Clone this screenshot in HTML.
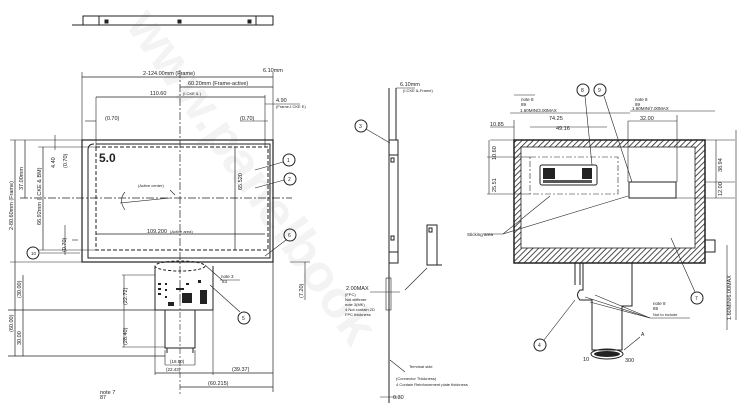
<!DOCTYPE html>
<html><head><meta charset="utf-8"><style>
html,body{margin:0;padding:0;background:#fff;width:750px;height:413px;overflow:hidden;}
svg{display:block;font-family:"Liberation Sans",sans-serif;overflow:hidden;}
</style></head><body>
<svg width="750" height="413" viewBox="0 0 750 413" xmlns="http://www.w3.org/2000/svg">
<defs>
<pattern id="h" width="4" height="4" patternUnits="userSpaceOnUse" patternTransform="rotate(45)">
<rect width="4" height="4" fill="#fff"/><line x1="0" y1="0" x2="0" y2="4" stroke="#222" stroke-width="1.6"/></pattern>
</defs>
<text x="0" y="0" transform="translate(125,25) rotate(55)" font-size="52" fill="#f3f3f3" font-weight="bold">www.panelbook</text>

<g stroke="#222" fill="none" stroke-width="1">
<rect x="83" y="16" width="190" height="9"/>
<line x1="99" y1="16" x2="99" y2="25"/><line x1="256" y1="16" x2="256" y2="25"/>
<line x1="72" y1="25" x2="83" y2="25"/>
<rect x="105" y="20" width="3" height="3" fill="#222"/><rect x="178" y="20" width="3" height="3" fill="#222"/><rect x="248" y="20" width="3" height="3" fill="#222"/>

<rect x="82" y="140" width="191" height="122" stroke-width="1.2"/>
<path d="M96 144 H270 V258 H88 V150 Q88 144 94 144" />
<rect x="96" y="147" width="172" height="103" stroke-dasharray="4,2"/>
<line x1="180" y1="70" x2="180" y2="300" stroke-dasharray="8,2,2,2" stroke-width="0.7"/>
<line x1="20" y1="198" x2="292" y2="198" stroke-dasharray="8,2,2,2" stroke-width="0.7"/>
<line x1="82" y1="72" x2="82" y2="140" stroke-width="0.6"/><line x1="273" y1="72" x2="273" y2="140" stroke-width="0.6"/>
<line x1="82" y1="77" x2="273" y2="77" stroke-width="0.7"/>
<line x1="180" y1="87" x2="273" y2="87" stroke-width="0.7"/>
<line x1="96" y1="97" x2="265" y2="97" stroke-width="0.7"/>
<line x1="96" y1="97" x2="96" y2="147" stroke-width="0.6"/><line x1="265" y1="95" x2="265" y2="147" stroke-width="0.6"/>
<line x1="265" y1="104" x2="300" y2="104" stroke-width="0.6"/>
<line x1="85" y1="121" x2="96" y2="121" stroke-width="0.6"/><line x1="240" y1="121" x2="268" y2="121" stroke-width="0.6"/>
<line x1="96" y1="234" x2="265" y2="234" stroke-width="0.7"/>
<line x1="235" y1="147" x2="235" y2="250" stroke-width="0.7"/>
<line x1="10" y1="140" x2="82" y2="140" stroke-width="0.6"/>
<line x1="10" y1="262" x2="82" y2="262" stroke-width="0.6"/>
<line x1="15" y1="140" x2="15" y2="262" stroke-width="0.7"/>
<line x1="25" y1="140" x2="25" y2="198" stroke-width="0.7"/>
<line x1="38" y1="147" x2="96" y2="147" stroke-width="0.6"/>
<line x1="38" y1="250" x2="96" y2="250" stroke-width="0.6"/>
<line x1="43" y1="147" x2="43" y2="250" stroke-width="0.7"/>
<line x1="55" y1="135" x2="55" y2="150" stroke-width="0.6"/>
<line x1="65" y1="225" x2="65" y2="255" stroke-width="0.6"/>
<line x1="72" y1="240" x2="78" y2="240" stroke-width="0.6"/>
<line x1="40" y1="253" x2="80" y2="253" stroke-width="0.6"/>
<path d="M170 198 L120 203 M125 192 Q118 200 125 210" stroke-width="0.6"/>
<path d="M170 190 L175 195" stroke-width="0.6"/>
<circle cx="289" cy="160" r="6"/><line x1="283" y1="162" x2="255" y2="170" stroke-width="0.6"/>
<circle cx="290" cy="179" r="6"/><line x1="284" y1="180" x2="255" y2="188" stroke-width="0.6"/>
<circle cx="290" cy="235" r="6"/><line x1="286" y1="240" x2="265" y2="256" stroke-width="0.6"/>
<circle cx="33" cy="253" r="6"/>

<ellipse cx="180" cy="266" rx="25" ry="5" stroke-dasharray="3,2"/>
<path d="M155 266 V310 H213 V266"/>
<path d="M165 310 V348 H195 V310"/>
<path d="M167 348 V353 M193 348 V353"/>
<line x1="155" y1="310" x2="155" y2="375" stroke-width="0.6"/>
<line x1="213" y1="310" x2="213" y2="375" stroke-width="0.6"/>
<line x1="165" y1="350" x2="165" y2="365" stroke-width="0.6"/><line x1="195" y1="350" x2="195" y2="365" stroke-width="0.6"/>
<line x1="8" y1="310" x2="213" y2="310" stroke-width="0.8"/>
<line x1="8" y1="356" x2="165" y2="356" stroke-width="0.8"/>
<line x1="15" y1="262" x2="15" y2="356" stroke-width="0.7"/>
<line x1="23" y1="275" x2="23" y2="356" stroke-width="0.7"/>
<line x1="122" y1="275" x2="155" y2="275" stroke-width="0.6"/>
<line x1="122" y1="347" x2="165" y2="347" stroke-width="0.6"/>
<line x1="124" y1="275" x2="124" y2="347" stroke-width="0.6"/>
<line x1="273" y1="262" x2="273" y2="392" stroke-width="0.7"/>
<line x1="213" y1="373" x2="273" y2="373" stroke-width="0.7"/>
<line x1="155" y1="373" x2="213" y2="373" stroke-width="0.7"/>
<line x1="165" y1="365" x2="195" y2="365" stroke-width="0.6"/>
<line x1="180" y1="387" x2="273" y2="387" stroke-width="0.7"/>
<line x1="180" y1="300" x2="180" y2="395" stroke-width="0.6" stroke-dasharray="6,2,2,2"/>
<line x1="205" y1="265" x2="222" y2="280" stroke-width="0.6"/><line x1="220" y1="280" x2="240" y2="280" stroke-width="0.6"/>
<line x1="210" y1="285" x2="240" y2="312" stroke-width="0.6"/>
<circle cx="244" cy="318" r="6"/>
<line x1="305" y1="262" x2="305" y2="300" stroke-width="0.6"/>
<line x1="290" y1="262" x2="310" y2="262" stroke-width="0.6"/>
</g>
<g fill="#222">
<rect x="158" y="283" width="3" height="2"/><rect x="158" y="288" width="3" height="2"/><rect x="158" y="293" width="3" height="2"/>
<rect x="165" y="283" width="2" height="2"/><rect x="165" y="289" width="2" height="2"/><rect x="165" y="296" width="2" height="2"/>
<rect x="176" y="288" width="8" height="2"/><rect x="186" y="283" width="3" height="2"/><rect x="198" y="280" width="3" height="3"/>
<rect x="182" y="293" width="10" height="10"/><rect x="200" y="290" width="7" height="14"/><rect x="168" y="302" width="6" height="4"/>
</g>

<g stroke="#222" fill="none" stroke-width="1">
<line x1="389" y1="88" x2="389" y2="403"/>
<line x1="396" y1="88" x2="396" y2="140"/>
<rect x="389" y="140" width="9" height="123"/>
<line x1="389" y1="155" x2="398" y2="155"/>
<line x1="389" y1="252" x2="398" y2="252"/>
<rect x="391" y="158" width="3" height="4"/><rect x="391" y="236" width="3" height="4"/>
<rect x="427" y="225" width="10" height="40"/><line x1="437" y1="265" x2="442" y2="265"/>
<rect x="429" y="228" width="3" height="4"/>
<line x1="427" y1="268" x2="405" y2="290" stroke-width="0.6"/>
<rect x="386" y="278" width="5" height="32" stroke-width="0.6"/>
<line x1="396" y1="88" x2="415" y2="88" stroke-width="0.6"/>
<circle cx="361" cy="126" r="6"/><line x1="366" y1="129" x2="390" y2="143" stroke-width="0.6"/>
<line x1="370" y1="292" x2="400" y2="292" stroke-width="0.6"/>
<line x1="390" y1="360" x2="405" y2="372" stroke-width="0.6"/>
<line x1="380" y1="397" x2="400" y2="397" stroke-width="0.6"/>
</g>

<rect x="514" y="140" width="191" height="123" fill="url(#h)" stroke="#222" stroke-width="1.5"/>
<rect x="521" y="147" width="174" height="101" fill="#fff" stroke="#222" stroke-width="0.8"/>
<g stroke="#222" fill="none" stroke-width="1">
<rect x="530" y="157" width="88" height="37" stroke-dasharray="6,2,2,2" stroke-width="0.6"/>
<rect x="540" y="165" width="57" height="20" rx="2"/>
<rect x="629" y="182" width="47" height="16"/>
<rect x="705" y="240" width="10" height="12"/>
<path d="M575 263 V285 M580 263 V285 M583 263 V290 H580 Q575 295 580 300 H592 V350 H622 V306 H632 V263"/>
<ellipse cx="607" cy="354" rx="16" ry="5"/>
<line x1="514" y1="95" x2="535" y2="95" stroke-width="0.6"/><line x1="510" y1="113" x2="630" y2="113" stroke-width="0.6"/>
<line x1="490" y1="127" x2="514" y2="127" stroke-width="0.6"/><line x1="530" y1="127" x2="607" y2="127" stroke-width="0.6"/>
<line x1="628" y1="121" x2="677" y2="121" stroke-width="0.6"/>
<line x1="628" y1="121" x2="628" y2="182" stroke-width="0.6"/><line x1="677" y1="115" x2="677" y2="182" stroke-width="0.6"/>
<line x1="630" y1="111" x2="715" y2="111" stroke-width="0.6"/>
<line x1="514" y1="120" x2="514" y2="140" stroke-width="0.6"/>
<line x1="490" y1="140" x2="514" y2="140" stroke-width="0.6"/><line x1="487" y1="157" x2="530" y2="157" stroke-width="0.6"/><line x1="487" y1="194" x2="530" y2="194" stroke-width="0.6"/>
<line x1="489" y1="140" x2="489" y2="194" stroke-width="0.6"/>
<line x1="705" y1="140" x2="735" y2="140" stroke-width="0.6"/><line x1="705" y1="182" x2="735" y2="182" stroke-width="0.6"/><line x1="676" y1="198" x2="735" y2="198" stroke-width="0.6"/>
<line x1="716" y1="140" x2="716" y2="198" stroke-width="0.6"/>
<line x1="736" y1="130" x2="736" y2="320" stroke-width="0.6"/>
<line x1="727" y1="245" x2="727" y2="330" stroke-width="0.6"/>
<circle cx="583" cy="90" r="6"/><line x1="585" y1="96" x2="592" y2="165" stroke-width="0.6"/>
<circle cx="600" cy="90" r="6"/><line x1="604" y1="96" x2="632" y2="182" stroke-width="0.6"/>
<line x1="503" y1="234" x2="550" y2="196" stroke-width="0.6"/><line x1="503" y1="234" x2="628" y2="196" stroke-width="0.6"/>
<line x1="483" y1="234" x2="503" y2="234" stroke-width="0.6"/>
<circle cx="697" cy="298" r="6"/><line x1="695" y1="292" x2="671" y2="238" stroke-width="0.6"/>
<circle cx="540" cy="345" r="6"/><line x1="544" y1="340" x2="575" y2="300" stroke-width="0.6"/>
<line x1="585" y1="297" x2="650" y2="318" stroke-width="0.6"/><line x1="590" y1="302" x2="650" y2="318" stroke-width="0.6"/><line x1="595" y1="295" x2="650" y2="318" stroke-width="0.6"/>
<line x1="650" y1="318" x2="690" y2="318" stroke-width="0.6"/>
<line x1="624" y1="350" x2="640" y2="337" stroke-width="0.6"/>
</g>
<rect x="543" y="168" width="12" height="11" fill="#222"/><rect x="582" y="168" width="10" height="11" fill="#222"/>
<rect x="543" y="180" width="49" height="3" fill="#555"/>
<ellipse cx="607" cy="354" rx="13" ry="3" fill="#222"/>

<g font-size="5.5" fill="#222">
<text x="143" y="75">2-124.00mm (Frame)</text>
<text x="188" y="85">60.20mm (Frame-active)</text>
<text x="150" y="95">110.60</text><text x="183" y="95" font-size="4">(I.CKE &amp; )</text>
<text x="276" y="102">4.90</text><text x="276" y="108" font-size="4">(Frame-I.CKE E)</text>
<text x="105" y="120">(0.70)</text><text x="240" y="120">(0.70)</text>
<text x="138" y="187" font-size="4">(Active center)</text>
<text x="147" y="233">109.200</text><text x="170" y="233" font-size="4">(Active area)</text>
<text x="100" y="394">note 7</text><text x="100" y="399">87</text>
<text x="232" y="371">(39.37)</text><text x="208" y="385">(60.215)</text>
<text x="166" y="371" font-size="4.5">(22.43)</text><text x="170" y="363" font-size="4.5">(18.50)</text>
<text x="221" y="278" font-size="4.5">note 3</text><text x="222" y="283" font-size="4.5">83</text>
<text x="263" y="72">6.10mm</text><text x="400" y="86">6.10mm</text>
<text x="403" y="92" font-size="4">(I.CKE &amp;-Frame)</text>
<text x="346" y="290">2.00MAX</text>
<text x="345" y="296" font-size="4">(FPC)</text><text x="345" y="301" font-size="4">Not stiffener</text><text x="345" y="306" font-size="4">note 3(MK)</text>
<text x="345" y="311" font-size="4">4 Not contain 2D</text><text x="345" y="316" font-size="4">FPC thickness</text>
<text x="409" y="368" font-size="4">Terminal side</text>
<text x="396" y="380" font-size="4">(Connector Thickness)</text>
<text x="396" y="386" font-size="4">4 Contain Reinforcement plate thickness</text>
<text x="393" y="399">0.30</text>
<text x="521" y="101" font-size="4.5">note 8</text><text x="521" y="106" font-size="4.5">89</text>
<text x="520" y="112" font-size="4.5">1.60MIN/3.00MAX</text>
<text x="549" y="120">74.25</text><text x="490" y="126">10.85</text><text x="556" y="130">49.16</text>
<text x="640" y="120">32.00</text>
<text x="635" y="101" font-size="4.5">note 8</text><text x="635" y="106" font-size="4.5">89</text>
<text x="632" y="110" font-size="4.5">1.60MIN/7.00MAX</text>
<text x="467" y="236" font-size="4.5">Sticking area</text>
<text x="653" y="305" font-size="4.5">note 8</text><text x="653" y="310" font-size="4.5">89</text>
<text x="653" y="316" font-size="4">Not to include</text>
<text x="583" y="361">10</text><text x="625" y="362">300</text>
<text x="641" y="336" font-size="5">A</text>
<text x="99" y="162" font-size="12" font-weight="bold">5.0</text>
<text x="31" y="255" font-size="4.5">10</text>
<text x="287" y="162" font-size="5">1</text><text x="288" y="181" font-size="5">2</text><text x="288" y="237" font-size="5">6</text>
<text x="242" y="320" font-size="5">5</text><text x="359" y="128" font-size="5">3</text>
<text x="581" y="92" font-size="5">8</text><text x="598" y="92" font-size="5">9</text>
<text x="695" y="300" font-size="5">7</text><text x="538" y="347" font-size="5">4</text>
</g>
<g font-size="5.5" fill="#222">
<text transform="translate(13,230) rotate(-90)">2-80.60mm (Frame)</text>
<text transform="translate(23,190) rotate(-90)">37.00mm</text>
<text transform="translate(41,225) rotate(-90)">66.92mm (I.CKE &amp; BM)</text>
<text transform="translate(55,168) rotate(-90)">4.40</text>
<text transform="translate(67,168) rotate(-90)">(0.70)</text>
<text transform="translate(66,252) rotate(-90)">(0.70)</text>
<text transform="translate(242,190) rotate(-90)">65.520</text>
<text transform="translate(13,332) rotate(-90)">(60.00)</text>
<text transform="translate(21,298) rotate(-90)">(30.00)</text>
<text transform="translate(21,345) rotate(-90)">30.00</text>
<text transform="translate(127,305) rotate(-90)">(22.72)</text>
<text transform="translate(127,345) rotate(-90)">(28.40)</text>
<text transform="translate(303,298) rotate(-90)">(7.20)</text>
<text transform="translate(496,160) rotate(-90)">10.60</text>
<text transform="translate(496,192) rotate(-90)">25.51</text>
<text transform="translate(722,172) rotate(-90)">38.94</text>
<text transform="translate(722,196) rotate(-90)">12.00</text>
<text transform="translate(731,320) rotate(-90)">1.60MIN/6.00MAX</text>
</g>
</svg>
</body></html>
